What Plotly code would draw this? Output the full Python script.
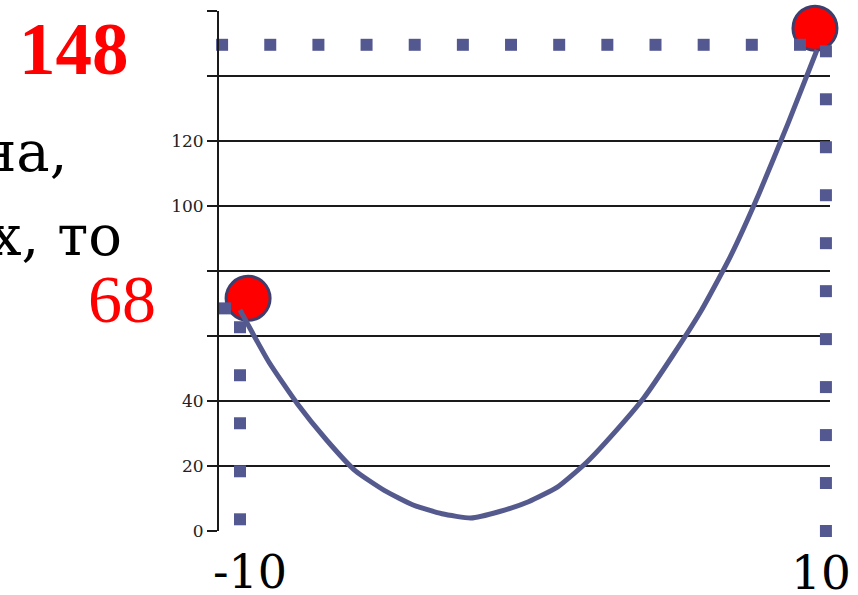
"""Parabola on [-10, 10] with its smallest and largest values marked"""

import numpy as np
import plotly.graph_objects as go

# curve
x_vals = [-10, -9, -8, -7, -6, -5, -4, -3, -2, -1, 0, 1, 2, 3, 4, 5, 6, 7, 8, 9, 10]
y_vals = [68, 52, 39, 28, 18.5, 12.5, 8, 5.3, 4, 6, 9, 13.5, 21, 30.5, 41, 54,
          68, 84.5, 104, 125.5, 148]

# red end points (as drawn, slightly off the curve ends)
end_x = [-9.72, 9.93]
end_y = [71.6, 154.7]

# y axis ticks, only some of them labelled
y_ticks = [0, 20, 40, 60, 80, 100, 120, 140, 160]
y_labels = ["0", "20", "40", "", "", "100", "120", "", ""]

# dotted guide lines: (x0, y0, x1, y1, number of squares)
guides = [
    (-12.29, 149.6, 9.41, 149.6, 14),   # level of 148
    (10.31, 147.6, 10.31, 0, 11),       # x = 10
    (-12.18, 68.5, -10.52, 68.5, 2),    # level of 68
    (-10, 62.7, -10, 3.6, 5),           # x = -10
]

W, H = 858, 595
L, R, T, B = 219, 28, 11, 64
CURVE = "#555a8e"
SQUARE = "#545891"


def px(x):
    """pixel column -> paper x"""
    return (x - L) / (W - L - R)


def py(y):
    """pixel row -> paper y"""
    return (H - B - y) / (H - T - B)


fig = go.Figure()

# red circles first, the curve and squares go over them
fig.add_trace(go.Scatter(
    x=end_x, y=end_y, mode="markers", cliponaxis=False,
    marker=dict(size=44, color="#ff0000", line=dict(color="#3c3f6e", width=3)),
))
fig.add_trace(go.Scatter(
    x=x_vals, y=y_vals, mode="lines", cliponaxis=False,
    line=dict(color=CURVE, width=5, shape="spline", smoothing=0.5),
))
for x0, y0, x1, y1, n in guides:
    fig.add_trace(go.Scatter(
        x=np.linspace(x0, x1, n), y=np.linspace(y0, y1, n),
        mode="markers", cliponaxis=False,
        marker=dict(symbol="square", size=12, color=SQUARE),
    ))

# texts of the slide around the chart
texts = [
    ("148", px(74), py(50), "center", 73, "#ff0000", "Liberation Serif", True),
    ("68", px(122), py(299), "center", 68, "#ff0000", "Liberation Serif", False),
    ("-10", px(250), py(572), "center", 46, "#000000", "DejaVu Serif", False),
    ("10", px(821), py(572), "center", 47, "#000000", "DejaVu Serif", False),
    ("на,", px(70), py(151), "right", 56, "#000000", "DejaVu Serif", False),
    ("х, то", px(124), py(235), "right", 56, "#000000", "DejaVu Serif", False),
]
for text, ax, ay, anchor, size, color, family, bold in texts:
    fig.add_annotation(
        x=ax, y=ay, xref="paper", yref="paper",
        text=f"<b>{text}</b>" if bold else text,
        showarrow=False, xanchor=anchor, yanchor="middle",
        font=dict(family=family, size=size, color=color),
    )

fig.update_layout(
    width=W, height=H,
    margin=dict(l=L, r=R, t=T, b=B),
    paper_bgcolor="white",
    plot_bgcolor="white",
    showlegend=False,
    xaxis=dict(
        range=[-10.728, 10.451], showgrid=False, zeroline=False,
        showline=False, showticklabels=False, ticks="",
    ),
    yaxis=dict(
        range=[0, 160], tickvals=y_ticks, ticktext=y_labels,
        showgrid=True, gridcolor="#1a1a1a", gridwidth=2, zeroline=False,
        showline=True, linecolor="#1a1a1a", linewidth=2,
        ticks="outside", ticklen=10, tickwidth=2, tickcolor="#1a1a1a",
        tickfont=dict(family="DejaVu Serif", size=17, color="#222222"),
    ),
)

# page body has a default 8px margin, drop it so the figure fills the window
fig.write_html(
    "out.html",
    config={"displayModeBar": False},
    post_script="document.body.style.margin = '0';",
)
